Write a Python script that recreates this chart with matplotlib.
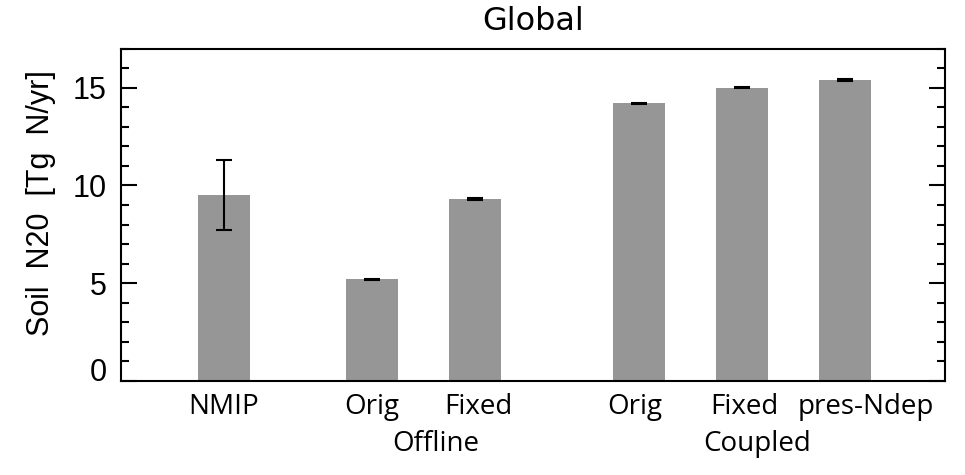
import matplotlib
matplotlib.use("Agg")
import matplotlib.pyplot as plt
from matplotlib.ticker import MultipleLocator

# Global soil N2O emission estimates
labels = ["NMIP", "Orig", "Fixed", "Orig", "Fixed", "pres-Ndep"]
values = [9.5, 5.2, 9.3, 14.2, 15.0, 15.4]
errors = [1.8, 0.04, 0.04, 0.04, 0.04, 0.04]
groups = ["Offline", "Coupled"]
yticks = [0, 5, 10, 15]

# layout (data units along x)
BAR_X = [1.0, 2.44, 3.44, 5.03, 6.03, 7.03]
LABEL_X = [1.0, 2.44, 3.47, 4.99, 6.05, 7.23]
GROUP_X = [3.06, 6.18]
BAR_COLOR = "#969696"
DPI = 100

fig = plt.figure(figsize=(9.65, 4.75), dpi=DPI)
ax = fig.add_axes([0.1251, 0.1979, 0.8542, 0.6998])

ax.bar(BAR_X, values, width=0.5, color=BAR_COLOR, zorder=1)
ax.errorbar(BAR_X, values, yerr=errors, fmt="none", ecolor="black",
            elinewidth=1.5, capsize=5.8, capthick=1.5, zorder=2)

ax.set_xlim(0, 8)
ax.set_ylim(0, 17)

for side in ax.spines.values():
    side.set_linewidth(1.5)

ax.set_yticks(yticks)
ax.yaxis.set_minor_locator(MultipleLocator(1))
ax.tick_params(axis="y", which="both", direction="in", left=True, right=True,
               width=1.5, labelsize=22, pad=10)
ax.tick_params(axis="y", which="major", length=11.5)
ax.tick_params(axis="y", which="minor", length=5.8)
for tk in ax.yaxis.get_major_ticks():
    tk.label1.set_fontfamily("Liberation Sans")
# sit the zero label on the bottom axis line
ax.yaxis.get_major_ticks()[0].label1.set_verticalalignment("baseline")

ax.set_xticks([])
for x, lab in zip(LABEL_X, labels):
    ax.text(x, -0.077, lab, transform=ax.get_xaxis_transform(),
            ha="center", va="center", fontsize=20, family="Open Sans")
for x, grp in zip(GROUP_X, groups):
    ax.text(x, -0.19, grp, transform=ax.get_xaxis_transform(),
            ha="center", va="center", fontsize=20, family="Open Sans")

fig.text(533 / 965, 1 - 22 / 475, "Global", ha="center", va="center",
         fontsize=23, family="DejaVu Sans")
fig.text(41 / 965, 1 - 203 / 475, "Soil  N20  [Tg  N/yr]", rotation=90,
         ha="center", va="center", fontsize=22, family="Liberation Sans")

fig.savefig("out.png", dpi=DPI)
